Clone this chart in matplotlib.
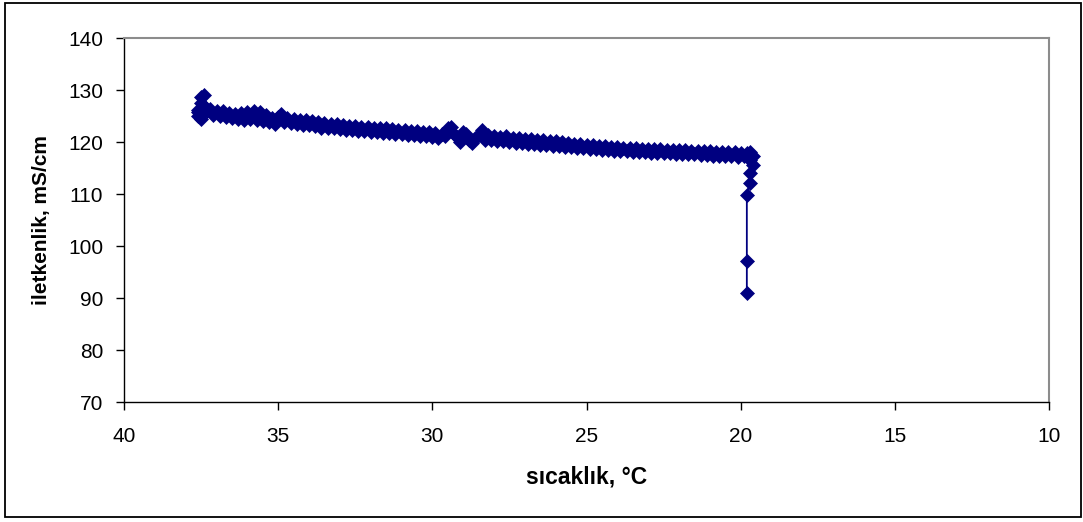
import matplotlib
matplotlib.use("Agg")
import matplotlib.pyplot as plt
from matplotlib.patches import Rectangle

# Temperature (°C) and conductivity (mS/cm) readings
temperature = [
    37.6, 37.6, 37.5, 37.5, 37.4, 37.5, 37.6, 37.4, 37.3,
    37.2, 37.1, 37.0, 36.9, 36.8, 36.7, 36.6, 36.5, 36.4, 36.3,
    36.2, 36.1, 36.0, 35.9, 35.8, 35.7, 35.6, 35.5, 35.4, 35.3,
    35.2, 35.1, 35.0, 34.9, 34.8, 34.7, 34.6, 34.5, 34.4, 34.3,
    34.2, 34.1, 34.0, 33.9, 33.8, 33.7, 33.6, 33.5, 33.4, 33.3,
    33.2, 33.1, 33.0, 32.9, 32.8, 32.7, 32.6, 32.5, 32.4, 32.3,
    32.2, 32.1, 32.0, 31.9, 31.8, 31.7, 31.6, 31.5, 31.4, 31.3,
    31.2, 31.1, 31.0, 30.9, 30.8, 30.7, 30.6, 30.5, 30.4, 30.3,
    30.2, 30.1, 30.0, 29.9, 29.8, 29.7, 29.6, 29.5, 29.4, 29.3,
    29.2, 29.1, 29.0, 28.9, 28.8, 28.7, 28.6, 28.5, 28.4, 28.3,
    28.2, 28.1, 28.0, 27.9, 27.8, 27.7, 27.6, 27.5, 27.4, 27.3,
    27.2, 27.1, 27.0, 26.9, 26.8, 26.7, 26.6, 26.5, 26.4, 26.3,
    26.2, 26.1, 26.0, 25.9, 25.8, 25.7, 25.6, 25.5, 25.4, 25.3,
    25.2, 25.1, 25.0, 24.9, 24.8, 24.7, 24.6, 24.5, 24.4, 24.3,
    24.2, 24.1, 24.0, 23.9, 23.8, 23.7, 23.6, 23.5, 23.4, 23.3,
    23.2, 23.1, 23.0, 22.9, 22.8, 22.7, 22.6, 22.5, 22.4, 22.3,
    22.2, 22.1, 22.0, 21.9, 21.8, 21.7, 21.6, 21.5, 21.4, 21.3,
    21.2, 21.1, 21.0, 20.9, 20.8, 20.7, 20.6, 20.5, 20.4, 20.3,
    20.2, 20.1, 20.0, 19.9, 19.8, 19.7, 19.6, 19.7, 19.6, 19.7,
    19.7, 19.8, 19.8, 19.8,
]

conductivity = [
    125.0, 126.2, 127.5, 128.6, 129.0, 124.5, 125.8, 127.0, 126.0,
    126.3, 125.2, 126.0, 125.0, 125.9, 124.8, 125.6, 124.6, 125.4, 124.5,
    125.5, 124.3, 125.8, 124.4, 125.9, 124.2, 125.7, 124.0, 125.2, 123.9,
    124.6, 123.5, 124.8, 125.3, 123.8, 124.6, 123.6, 124.5, 123.5, 124.2,
    123.3, 124.3, 123.2, 124.0, 123.0, 123.8, 122.6, 123.6, 122.7, 123.5,
    122.6, 123.4, 122.5, 123.3, 122.4, 123.1, 122.3, 123.0, 122.2, 122.9,
    122.1, 122.8, 122.0, 122.7, 121.9, 122.6, 121.8, 122.7, 121.7, 122.5,
    121.6, 122.4, 121.5, 122.3, 121.4, 122.2, 121.3, 122.1, 121.2, 122.0,
    121.1, 121.9, 120.9, 121.7, 120.8, 121.6, 121.2, 122.6, 122.9, 121.5,
    120.9, 120.0, 122.0, 121.5, 120.4, 119.8, 120.8, 121.3, 122.3, 120.4,
    121.3, 120.3, 121.2, 120.2, 121.0, 120.1, 121.1, 120.0, 120.8, 119.9,
    120.8, 119.8, 120.6, 119.7, 120.5, 119.6, 120.4, 119.5, 120.3, 119.4,
    120.2, 119.3, 120.1, 119.2, 120.0, 119.1, 119.9, 119.0, 119.7, 118.9,
    119.6, 118.8, 119.5, 118.7, 119.4, 118.6, 119.3, 118.5, 119.2, 118.4,
    119.1, 118.3, 119.0, 118.3, 118.9, 118.2, 118.8, 118.1, 118.8, 118.0,
    118.7, 118.0, 118.7, 117.9, 118.6, 117.9, 118.6, 117.8, 118.5, 117.8,
    118.5, 117.7, 118.4, 117.7, 118.4, 117.6, 118.3, 117.6, 118.3, 117.5,
    118.2, 117.5, 118.2, 117.4, 118.1, 117.4, 118.1, 117.3, 118.0, 117.3,
    118.0, 117.2, 117.9, 117.3, 117.9, 118.0, 117.3, 116.6, 115.6, 114.0,
    112.2, 109.8, 97.2, 91.0,
]

x_ticks = [40, 35, 30, 25, 20, 15, 10]
y_ticks = [70, 80, 90, 100, 110, 120, 130, 140]

plt.rcParams["font.family"] = ["Liberation Sans", "DejaVu Sans"]

W, H = 1083, 522
fig = plt.figure(figsize=(W / 100, H / 100), dpi=100)
fig.patch.set_facecolor("white")

# axes placed in pixel coordinates
left, right, top, bottom = 124, 1049, 38, 402
ax = fig.add_axes([left / W, 1 - bottom / H, (right - left) / W, (bottom - top) / H])

navy = "#000080"
ax.plot(temperature, conductivity, color=navy, linewidth=1.3,
        marker="D", markersize=7.5, markerfacecolor=navy, markeredgecolor=navy,
        markeredgewidth=0.5)

ax.set_xlim(40, 10)
ax.set_ylim(70, 140)
ax.set_xticks(x_ticks)
ax.set_yticks(y_ticks)
ax.set_xticklabels([str(v) for v in x_ticks])
ax.set_yticklabels([str(v) for v in y_ticks])

for side in ("left", "bottom"):
    ax.spines[side].set_color("black")
    ax.spines[side].set_linewidth(1.0)
for side in ("top", "right"):
    ax.spines[side].set_color("#8c8c8c")
    ax.spines[side].set_linewidth(1.5)

ax.tick_params(axis="both", direction="out", length=6, width=1.0,
               labelsize=15, colors="black")
ax.tick_params(axis="x", pad=12)
ax.tick_params(axis="y", pad=9)

ax.set_xlabel("sıcaklık, °C", fontsize=16.5, fontweight="bold", labelpad=14)
ax.set_ylabel("iletkenlik, mS/cm", fontsize=15, fontweight="bold", labelpad=12)

# outer chart border
fig.patches.append(Rectangle((5 / W, 5 / H), (1081 - 5) / W, (517 - 3) / H,
                             transform=fig.transFigure, fill=False,
                             edgecolor="black", linewidth=1.3))

fig.savefig("out.png", dpi=100, facecolor="white")
